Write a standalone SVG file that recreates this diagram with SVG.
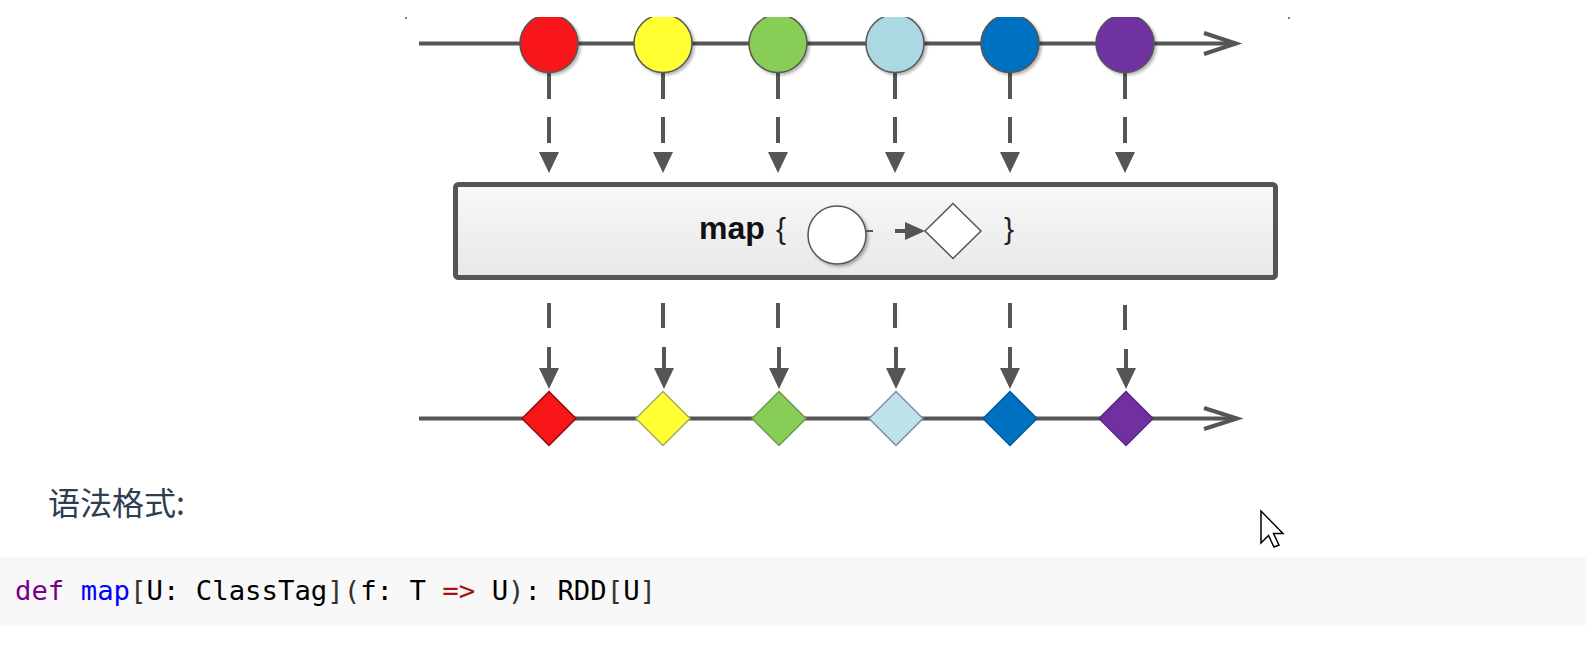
<svg xmlns="http://www.w3.org/2000/svg" width="1586" height="645" viewBox="0 0 1586 645">
<style>
.axis{stroke:#555;stroke-width:4;fill:none}
.chev{stroke:#555;stroke-width:4;fill:none;stroke-linejoin:miter}
.dash{stroke:#555;stroke-width:4;fill:none}
.head{fill:#555}
.ball{stroke:#555;stroke-width:1.5;filter:url(#sh)}
.dia{stroke-width:1.5}
.code{font-family:"DejaVu Sans Mono","Liberation Mono",monospace;font-size:27.3px;fill:#000}
</style>
<defs>
<filter id="sh" x="-30%" y="-30%" width="160%" height="160%">
<feDropShadow dx="2" dy="2" stdDeviation="1.5" flood-color="#000" flood-opacity="0.3"/>
</filter>
<linearGradient id="boxg" x1="0" y1="0" x2="0" y2="1">
<stop offset="0" stop-color="#f8f8f8"/>
<stop offset="1" stop-color="#e8e8e8"/>
</linearGradient>
<clipPath id="clip"><rect x="0" y="17" width="1586" height="450"/></clipPath>
</defs>
<rect width="1586" height="645" fill="#fff"/>
<g clip-path="url(#clip)">
<g id="connectors">
<line class="axis" x1="419" y1="43.5" x2="1236" y2="43.5"/>
<polyline class="chev" points="1204,33 1236,43.5 1204,54"/>
<line class="axis" x1="419" y1="418.5" x2="1237" y2="418.5"/>
<polyline class="chev" points="1204,408 1237,418.5 1204,429"/>
<g id="top-arrows">
<path class="dash" d="M549,72V99M549,117V143"/><polygon class="head" points="539,152 559,152 549,173"/>
<path class="dash" d="M663,72V99M663,117V143"/><polygon class="head" points="653,152 673,152 663,173"/>
<path class="dash" d="M778,72V99M778,117V143"/><polygon class="head" points="768,152 788,152 778,173"/>
<path class="dash" d="M895,72V99M895,117V143"/><polygon class="head" points="885,152 905,152 895,173"/>
<path class="dash" d="M1010,72V99M1010,117V143"/><polygon class="head" points="1000,152 1020,152 1010,173"/>
<path class="dash" d="M1125,72V99M1125,117V143"/><polygon class="head" points="1115,152 1135,152 1125,173"/>
</g>
<g id="bottom-arrows">
<path class="dash" d="M549,303V328M549,347V370"/><polygon class="head" points="539,368 559,368 549,389"/>
<path class="dash" d="M663,303V328M664,347V370"/><polygon class="head" points="654,368 674,368 664,389"/>
<path class="dash" d="M778,303V328M779,347V370"/><polygon class="head" points="769,368 789,368 779,389"/>
<path class="dash" d="M895,303V328M896,347V370"/><polygon class="head" points="886,368 906,368 896,389"/>
<path class="dash" d="M1010,303V328M1010,347V370"/><polygon class="head" points="1000,368 1020,368 1010,389"/>
<path class="dash" d="M1125,305V330M1126,349V370"/><polygon class="head" points="1116,368 1136,368 1126,389"/>
</g>
</g>
<g id="in-red"><circle class="ball" cx="549" cy="43.5" r="29" fill="#f8151a"/></g>
<g id="in-yellow"><circle class="ball" cx="663" cy="43.5" r="29" fill="#ffff33"/></g>
<g id="in-green"><circle class="ball" cx="778" cy="43.5" r="29" fill="#88cd55"/></g>
<g id="in-lightblue"><circle class="ball" cx="895" cy="43.5" r="29" fill="#acd8e4"/></g>
<g id="in-blue"><circle class="ball" cx="1010" cy="43.5" r="29" fill="#0070c0"/></g>
<g id="in-purple"><circle class="ball" cx="1125" cy="43.5" r="29" fill="#7030a0"/></g>

<g id="map-box">
<rect x="455.5" y="184.5" width="820" height="93" rx="3" fill="url(#boxg)" stroke="#555" stroke-width="5"/>
<text x="699" y="239" font-family="Liberation Sans, Arial, sans-serif" font-size="32" font-weight="bold" fill="#111">map</text>
<text x="776" y="239" font-family="Liberation Sans, Arial, sans-serif" font-size="30" fill="#222">{</text>
<circle cx="837" cy="235" r="29" fill="#fff" stroke="#555" stroke-width="1.5" filter="url(#sh)"/>
<line x1="866" y1="231" x2="873" y2="231" stroke="#555" stroke-width="2"/>
<line x1="895" y1="231" x2="910" y2="231" stroke="#555" stroke-width="4"/>
<polygon class="head" points="905,222 925,231 905,240"/>
<polygon points="925,231 953,203.5 981,231 953,258.5" fill="#fff" stroke="#555" stroke-width="1.5"/>
<text x="1004" y="239" font-family="Liberation Sans, Arial, sans-serif" font-size="30" fill="#222">}</text>
</g>

<g id="out-red"><polygon class="dia" points="522,418.5 549,391.5 576,418.5 549,445.5" fill="#f8151a" stroke="#8a0d10"/></g>
<g id="out-yellow"><polygon class="dia" points="636,418.5 663,391.5 690,418.5 663,445.5" fill="#ffff33" stroke="#a8a860"/></g>
<g id="out-green"><polygon class="dia" points="752,418.5 779,391.5 806,418.5 779,445.5" fill="#88cd55" stroke="#6a9a50"/></g>
<g id="out-lightblue"><polygon class="dia" points="869,418.5 896,391.5 923,418.5 896,445.5" fill="#bfe1ea" stroke="#7a9098"/></g>
<g id="out-blue"><polygon class="dia" points="983,418.5 1010,391.5 1037,418.5 1010,445.5" fill="#0070c0" stroke="#005a9a"/></g>
<g id="out-purple"><polygon class="dia" points="1099,418.5 1126,391.5 1153,418.5 1126,445.5" fill="#7030a0" stroke="#5a2580"/></g>
</g>
<rect x="405" y="17" width="2" height="2" fill="#3a8fd9"/>
<rect x="1288" y="17" width="2" height="2" fill="#3a8fd9"/>

<g id="heading">
<text x="48" y="515" font-family="Noto Sans CJK SC, sans-serif" font-size="32" fill="#2c3e50">语法格式:</text>
</g>

<g id="code-block">
<rect x="0" y="557" width="1586" height="69" fill="#f8f8f8"/>
<text class="code" x="15" y="600" xml:space="preserve"><tspan fill="#770088">def</tspan> <tspan fill="#0000ff">map</tspan><tspan fill="#333">[</tspan>U: ClassTag<tspan fill="#333">](</tspan>f: T <tspan fill="#a11">=&gt;</tspan> U<tspan fill="#333">)</tspan>: RDD<tspan fill="#333">[</tspan>U<tspan fill="#333">]</tspan></text>
</g>

<g id="cursor">
<polygon points="1261,511 1261,543 1268.5,535.5 1274,547 1279,545 1273.5,533.5 1283,533.5" fill="#fff" stroke="#000" stroke-width="1.5" stroke-linejoin="miter"/>
</g>
</svg>
